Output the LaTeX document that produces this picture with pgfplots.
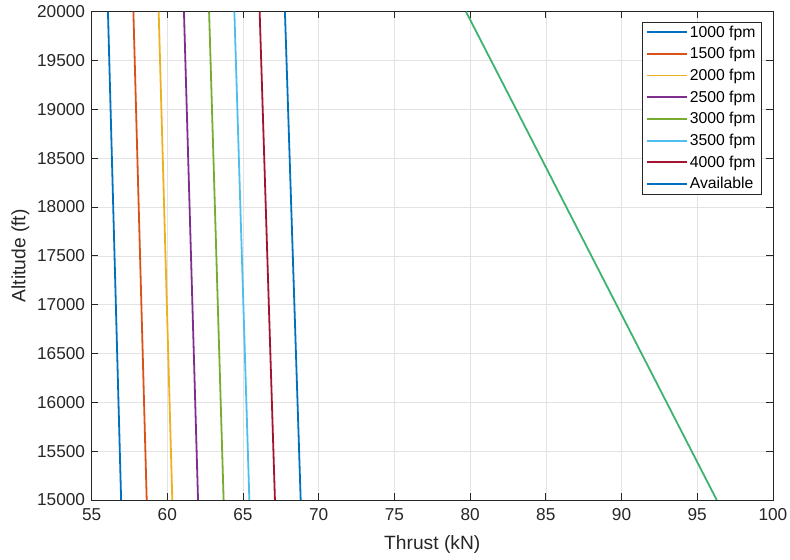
\documentclass[border=0pt]{standalone}
\usepackage{fontspec}
\setmainfont{Liberation Sans}
\usepackage{pgfplots}
\pgfplotsset{compat=1.18}
\definecolor{c1}{rgb}{0,0.447,0.741}
\definecolor{c2}{rgb}{0.85,0.325,0.098}
\definecolor{c3}{rgb}{0.929,0.694,0.125}
\definecolor{c4}{rgb}{0.494,0.184,0.556}
\definecolor{c5}{rgb}{0.466,0.674,0.188}
\definecolor{c6}{rgb}{0.301,0.745,0.933}
\definecolor{c7}{rgb}{0.635,0.078,0.184}
\definecolor{cg}{RGB}{60,179,113}
\definecolor{axgray}{rgb}{0.15,0.15,0.15}
\begin{document}
\begin{tikzpicture}
\useasboundingbox (0,0) rectangle (790bp,560bp);
\begin{axis}[
  at={(91.6bp,60bp)}, anchor=south west,
  scale only axis, width=681.3bp, height=488.3bp,
  xmin=55, xmax=100, ymin=15000, ymax=20000,
  xtick={55,60,...,100}, ytick={15000,15500,...,20000},
  /pgf/number format/1000 sep={},
  /pgf/number format/assume math mode=true,
  scaled y ticks=false,
  tick align=inside, major tick length=6.8bp,
  xtick pos=both, ytick pos=both,
  axis line style={axgray, line width=0.7bp},
  tick style={axgray, line width=0.7bp},
  grid=major, major grid style={gray!22, line width=0.6bp},
  ticklabel style={font=\fontsize{17.3}{19}\selectfont, text=axgray},
  xticklabel style={yshift=-5bp},
  yticklabel style={xshift=-3bp},
  xlabel={Thrust (kN)}, ylabel={Altitude (ft)},
  label style={font=\fontsize{19.3}{21}\selectfont, text=axgray},
  xlabel style={yshift=-8.5bp}, ylabel style={yshift=1bp},
  legend cell align=left,
  legend style={at={(rel axis cs:0.984,0.979)}, anchor=north east,
    draw=axgray, line width=0.6bp, font=\fontsize{15.8}{17}\selectfont,
    row sep=8.8bp, inner xsep=4bp, inner ysep=3.5bp,
    nodes={inner xsep=2.2bp, inner ysep=0bp}},
  legend image code/.code={\draw[#1, line width=1.8bp] (0bp,0bp) -- (40bp,0bp);},
]
\addplot[c1, line width=1.8bp] coordinates {(56.95,15000) (56.08,20000)};
\addlegendentry{1000 fpm}
\addplot[c2, line width=1.8bp] coordinates {(58.64,15000) (57.76,20000)};
\addlegendentry{1500 fpm}
\addplot[c3, line width=1.8bp] coordinates {(60.33,15000) (59.43,20000)};
\addlegendentry{2000 fpm}
\addplot[c4, line width=1.8bp] coordinates {(62.03,15000) (61.10,20000)};
\addlegendentry{2500 fpm}
\addplot[c5, line width=1.8bp] coordinates {(63.72,15000) (62.76,20000)};
\addlegendentry{3000 fpm}
\addplot[c6, line width=1.8bp] coordinates {(65.42,15000) (64.43,20000)};
\addlegendentry{3500 fpm}
\addplot[c7, line width=1.8bp] coordinates {(67.11,15000) (66.10,20000)};
\addlegendentry{4000 fpm}
\addplot[c1, line width=1.8bp] coordinates {(68.81,15000) (67.77,20000)};
\addlegendentry{Available}
\addplot[cg, line width=1.8bp, forget plot] coordinates {(96.29,15000) (79.73,20000)};
\end{axis}
\end{tikzpicture}
\end{document}
